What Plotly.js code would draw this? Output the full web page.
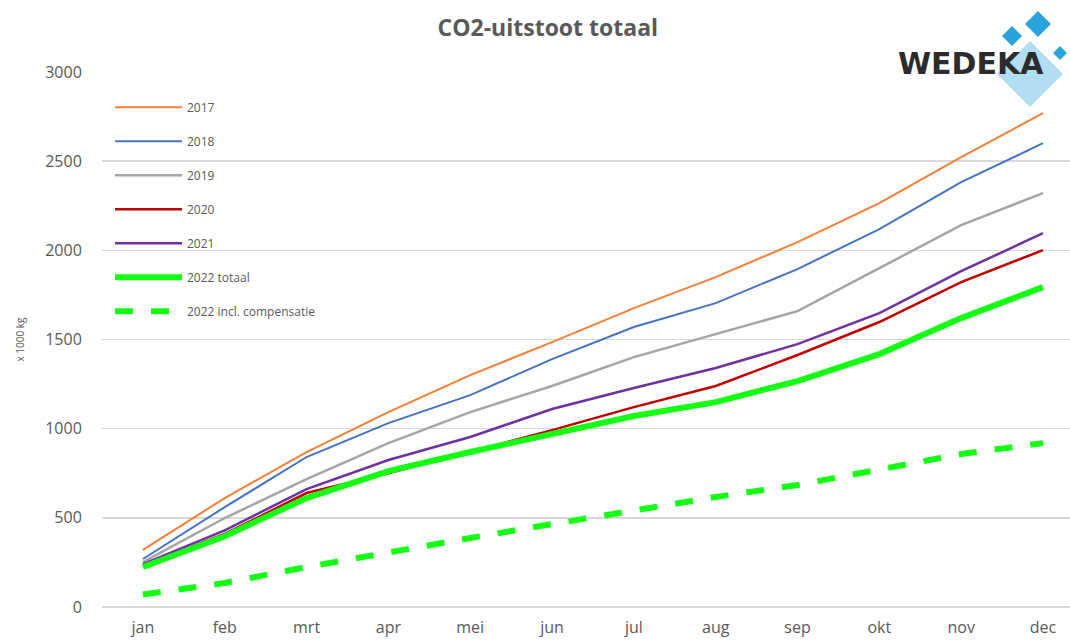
<!DOCTYPE html>
<html>
<head>
<meta charset="utf-8">
<script src="https://cdn.plot.ly/plotly-3.0.1.min.js"></script>
<style>html,body{margin:0;padding:0;background:#fff}#chart{width:1070px;height:641px}</style>
</head>
<body>
<div id="chart"></div>
<script>
const months = ["jan","feb","mrt","apr","mei","jun","jul","aug","sep","okt","nov","dec"];
const y2017 = [320, 611, 869, 1093, 1300, 1485, 1676, 1850, 2046, 2265, 2522, 2769];
const y2018 = [269, 560, 841, 1031, 1188, 1390, 1570, 1704, 1895, 2119, 2382, 2601];
const y2019 = [252, 499, 717, 919, 1093, 1239, 1401, 1530, 1659, 1900, 2141, 2321];
const y2020 = [230, 410, 639, 750, 870, 992, 1121, 1239, 1413, 1598, 1822, 2001];
const y2021 = [240, 430, 661, 824, 953, 1110, 1228, 1340, 1474, 1648, 1883, 2096];
const y2022 = [224, 397, 611, 762, 869, 970, 1071, 1149, 1267, 1418, 1620, 1794];
const y2022comp = [70, 135, 224, 308, 387, 465, 544, 617, 684, 774, 858, 919];
const seriesNames = ["2017","2018","2019","2020","2021","2022 totaal","2022 incl. compensatie"];
const yTicks = [0, 500, 1000, 1500, 2000, 2500, 3000];

const allY = [y2017, y2018, y2019, y2020, y2021, y2022, y2022comp];
const colors = ["#F47F35", "#4472C4", "#A5A5A5", "#C00000", "#7030A0", "#14FF14", "#14FF14"];
const widths = [2, 2, 2.5, 2.5, 2.5, 6, 6];
const dashes = ["solid","solid","solid","solid","solid","solid","dash"];

const traces = allY.map((ys, i) => ({
  type: "scatter", mode: "lines",
  x: months, y: ys, name: seriesNames[i],
  legendgroup: "g" + i,
  line: {color: colors[i], width: widths[i], dash: dashes[i]},
  hoverinfo: "skip"
}));

const L = 102, B = 34, PW = 968, PH = 535, H = 641;
function px2x(px) { return (px - L) / PW; }
function px2y(py) { return (H - B - py) / PH; }

const layout = {
  width: 1070, height: 641,
  paper_bgcolor: "#fff", plot_bgcolor: "#fff",
  margin: {l: L, r: 0, t: 72, b: B},
  font: {family: "Open Sans, Liberation Sans, sans-serif", color: "#595959"},
  title: {text: "<b>CO2-uitstoot totaal</b>", x: 0.512, xanchor: "center", y: 0.957, yanchor: "middle",
          font: {size: 23, color: "#595959", family: "Open Sans, sans-serif"}},
  xaxis: {type: "category", range: [-0.5, 11.33], showgrid: false, zeroline: false,
          showline: false, ticks: "outside", ticklen: 6, tickcolor: "rgba(0,0,0,0)",
          tickfont: {size: 16, color: "#595959"}, fixedrange: true},
  yaxis: {range: [0, 3000], tickvals: yTicks, ticktext: yTicks.map(String),
          showgrid: true, gridcolor: "#D9D9D9", gridwidth: 1.5, zeroline: true, zerolinecolor: "#D9D9D9", zerolinewidth: 1.5,
          ticks: "outside", ticklen: 16, tickcolor: "rgba(0,0,0,0)",
          tickfont: {size: 16, color: "#595959"},
          title: {text: "x 1000 kg", font: {size: 10, color: "#595959"}, standoff: 18}},
  showlegend: true,
  legend: {x: px2x(110), y: 0.961, xanchor: "left", yanchor: "top", bgcolor: "rgba(0,0,0,0)",
           font: {size: 12, color: "#595959"}, tracegroupgap: 15, itemwidth: 67},
  shapes: [],
  annotations: []
};

// Logo (decorative)
function diamond(cx, cy, r, color) {
  return {type: "path", xref: "paper", yref: "paper",
    path: `M ${px2x(cx)} ${px2y(cy - r)} L ${px2x(cx + r)} ${px2y(cy)} L ${px2x(cx)} ${px2y(cy + r)} L ${px2x(cx - r)} ${px2y(cy)} Z`,
    fillcolor: color, line: {width: 0}, layer: "above"};
}
layout.shapes = [
  diamond(1030, 74, 33, "#B3DDF2"),
  diamond(1012, 36, 10, "#29A3DB"),
  diamond(1038, 24, 13, "#29A3DB"),
  diamond(1060, 53, 7, "#29A3DB")
];
layout.annotations.push({
  xref: "paper", yref: "paper", x: px2x(971), y: px2y(63), xanchor: "center", yanchor: "middle",
  text: "<b>WEDEKA</b>", showarrow: false,
  font: {family: "DejaVu Sans, sans-serif", size: 30, color: "#2B2B2B"}
});

Plotly.newPlot("chart", traces, layout, {displayModeBar: false, staticPlot: true});
</script>
</body>
</html>
